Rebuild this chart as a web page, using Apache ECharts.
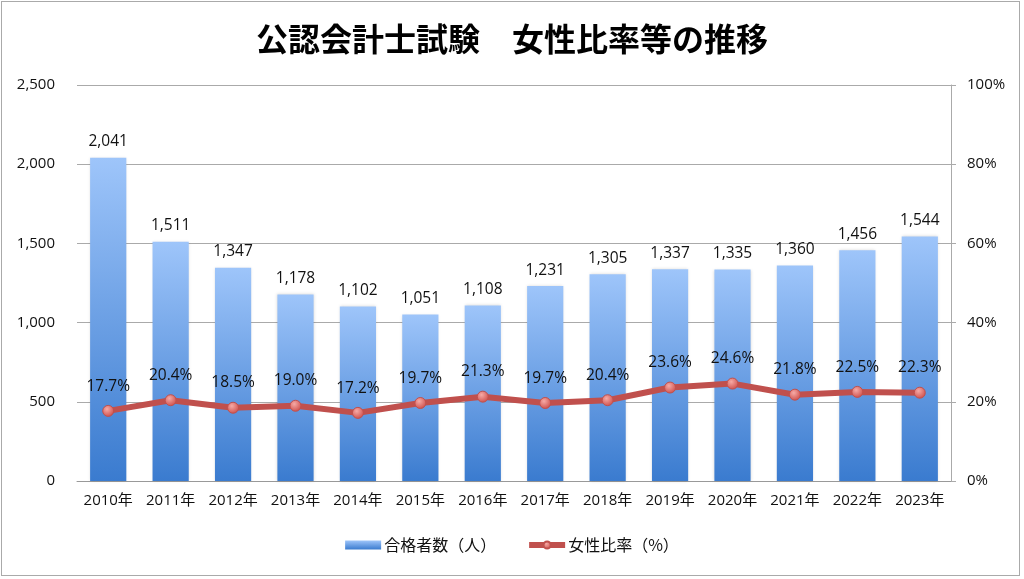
<!DOCTYPE html>
<html><head><meta charset="utf-8">
<script src="https://cdn.jsdelivr.net/npm/echarts@6/dist/echarts.min.js"></script>
<style>html,body{margin:0;padding:0;background:#fff}#c{width:1024px;height:579px}
#frame{position:absolute;left:1px;top:1px;width:1019px;height:575px;border:1.5px solid #aaa;box-sizing:border-box;pointer-events:none}</style>
</head><body><div id="c"></div><div id="frame"></div>
<script>
const categories = ['2010年','2011年','2012年','2013年','2014年','2015年','2016年','2017年','2018年','2019年','2020年','2021年','2022年','2023年'];
const passers = [2041,1511,1347,1178,1102,1051,1108,1231,1305,1337,1335,1360,1456,1544];
const femaleRatio = [17.7,20.4,18.5,19.0,17.2,19.7,21.3,19.7,20.4,23.6,24.6,21.8,22.5,22.3];
const leftTicks = [0,500,1000,1500,2000,2500];
const rightTicks = [0,20,40,60,80,100];

const font = '"Open Sans", "Noto Sans CJK JP", sans-serif';
const cjk = '"Noto Sans CJK JP", sans-serif';
const chart = echarts.init(document.getElementById('c'));
chart.setOption({
  animation:false,
  textStyle:{fontFamily:font},
  title:{text:'公認会計士試験　女性比率等の推移',left:'center',top:18,
    textStyle:{fontSize:32,fontWeight:'bold',color:'#000',fontFamily:cjk}},
  legend:{bottom:21,left:'center',itemGap:30,itemWidth:36,itemHeight:9,
    textStyle:{fontSize:16,color:'#111',fontFamily:cjk,padding:[0,0,0,-2]},
    data:[{name:'合格者数（人）',icon:'rect'},
          {name:'女性比率（%）',lineStyle:{width:6,color:'#c0504d'}}]},
  grid:{left:77,right:73,top:85,bottom:98,containLabel:false},
  xAxis:{type:'category',data:categories,
    axisLine:{show:true,lineStyle:{color:'#999',width:1}},
    axisTick:{show:false},
    axisLabel:{interval:0,hideOverlap:false,fontSize:15,color:'#111',margin:12,fontFamily:font}},
  yAxis:[
    {type:'value',min:leftTicks[0],max:leftTicks[leftTicks.length-1],interval:500,
     axisLine:{show:false},axisTick:{show:false},
     splitLine:{lineStyle:{color:'#aaa',width:1}},
     axisLabel:{fontSize:15,color:'#111',margin:22,formatter:v=>v.toLocaleString('en-US'),fontFamily:font}},
    {type:'value',min:rightTicks[0],max:rightTicks[rightTicks.length-1],interval:20,position:'right',
     axisLine:{show:true,lineStyle:{color:'#aaa',width:1}},axisTick:{show:true,length:5,lineStyle:{color:'#aaa'}},
     splitLine:{show:false},
     axisLabel:{fontSize:15,color:'#111',margin:16,formatter:v=>v+'%',fontFamily:font}}
  ],
  series:[
    {name:'合格者数（人）',type:'bar',data:passers,barWidth:'58%',yAxisIndex:0,
     itemStyle:{color:new echarts.graphic.LinearGradient(0,0,0,1,[{offset:0,color:'#9ec5fa'},{offset:1,color:'#3a7bcf'}]),
       shadowColor:'rgba(0,0,0,0.15)',shadowBlur:3},
     label:{show:true,position:'top',distance:8,fontSize:15.5,color:'#111',fontFamily:font,
       formatter:p=>p.value.toLocaleString('en-US')}},
    {name:'女性比率（%）',type:'line',data:femaleRatio,yAxisIndex:1,
     symbol:'circle',symbolSize:11,
     lineStyle:{color:'#c0504d',width:6},
     itemStyle:{color:new echarts.graphic.RadialGradient(0.4,0.35,0.7,[{offset:0,color:'#f6aaa6'},{offset:1,color:'#cc4a46'}]),borderColor:'#c0504d',borderWidth:1},
     label:{show:true,position:'top',distance:11,fontSize:15.5,color:'#111',fontFamily:font,
       formatter:p=>p.value.toFixed(1)+'%'}}
  ]
});
</script></body></html>
